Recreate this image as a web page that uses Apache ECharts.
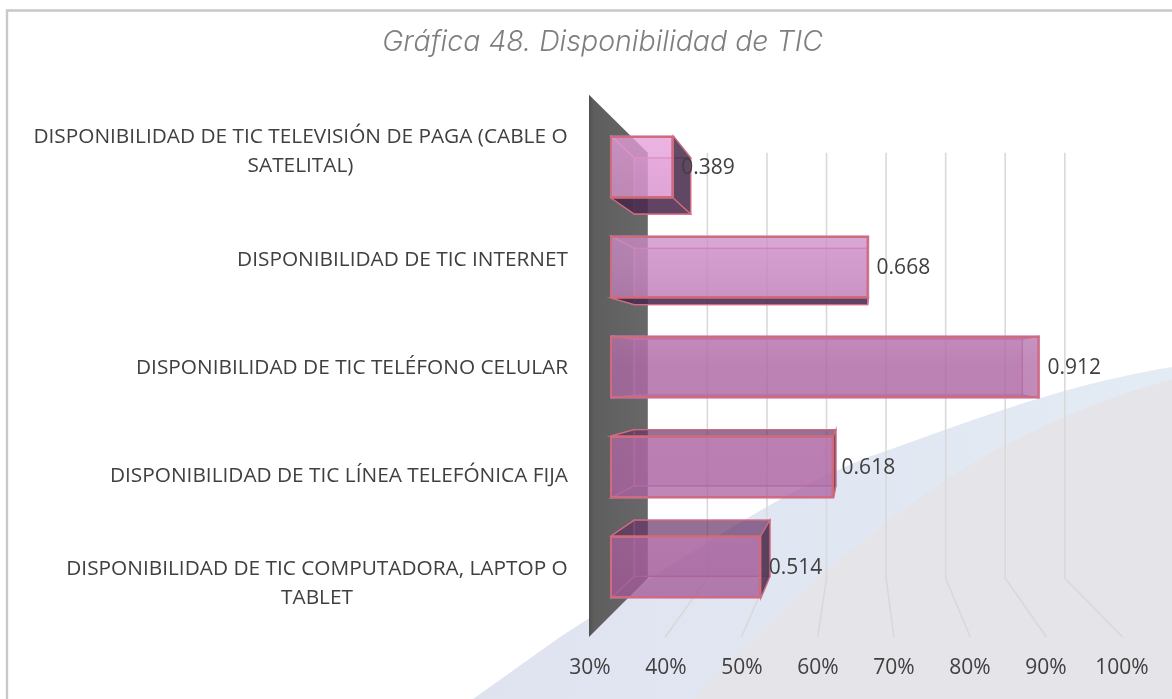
<!DOCTYPE html>
<html lang="es">
<head>
<meta charset="utf-8">
<title>Gráfica 48. Disponibilidad de TIC</title>
<script src="https://cdn.jsdelivr.net/npm/echarts@6/dist/echarts.min.js"></script>
<style>html,body{margin:0;padding:0;background:#fff}#chart{width:1172px;height:699px}</style>
</head>
<body>
<div id="chart"></div>
<script>
const titleText = 'Gráfica 48. Disponibilidad de TIC';
const categories = [
  'DISPONIBILIDAD DE TIC TELEVISIÓN DE PAGA (CABLE O\nSATELITAL)',
  'DISPONIBILIDAD DE TIC INTERNET',
  'DISPONIBILIDAD DE TIC TELÉFONO CELULAR',
  'DISPONIBILIDAD DE TIC LÍNEA TELEFÓNICA FIJA',
  'DISPONIBILIDAD DE TIC COMPUTADORA, LAPTOP O\nTABLET'
];
const values = [0.389, 0.668, 0.912, 0.618, 0.514];
const axisMin = 0.3, axisMax = 1, axisStep = 0.1;
const gridTicks = [0.4, 0.5, 0.6, 0.7, 0.8, 0.9, 1];

const FONT = '"Open Sans", sans-serif';
const TEXT = '#404040';
// perspective of the 3-D look
const VP = [858, 368];
const S_BACK_BAR = 0.906, S_WALL = 0.851, S_FLOOR = 1.089;
const proj = (p, s) => [VP[0] + (p[0] - VP[0]) * s, VP[1] + (p[1] - VP[1]) * s];

const stops = a => [
  { offset: 0, color: `rgba(232,158,218,${a})` },
  { offset: 0.29, color: `rgba(200,136,193,${a})` },
  { offset: 0.5, color: `rgba(176,106,166,${a})` },
  { offset: 0.75, color: `rgba(172,100,162,${a})` },
  { offset: 1, color: `rgba(160,88,150,${a})` }
];
const fillGrad = a => new echarts.graphic.LinearGradient(0, 130, 0, 600, stops(a), true);

// background swooshes
function curve(p0, p1, p2, p3) {
  const out = [];
  for (let k = 0; k <= 24; k++) {
    const t = k / 24, u = 1 - t;
    out.push([0, 1].map(d => u*u*u*p0[d] + 3*u*u*t*p1[d] + 3*u*t*t*p2[d] + t*t*t*p3[d]));
  }
  return out;
}
const swooshBlue = [[473, 699], [560, 637]]
  .concat(curve([560, 637], [680, 560], [790, 484], [880, 453]))
  .concat(curve([880, 453], [960, 425], [1060, 385], [1172, 367]))
  .concat([[1172, 699]]);
const swooshGray = curve([693, 699], [760, 630], [840, 550], [950, 477])
  .concat(curve([950, 477], [1010, 440], [1090, 400], [1172, 380]))
  .concat([[1172, 699]]);

function renderWall(params, api) {
  if (params.dataIndex !== 0) return null;
  const c = params.coordSys, x = api.coord([axisMin, 0])[0];
  const t = c.y, b = c.y + c.height - 2;
  const p1 = proj([x, t], S_FLOOR), p2 = proj([x, t - 2], S_WALL);
  const p3 = proj([x, b], S_WALL), p4 = proj([x, b], S_FLOOR);
  return {
    type: 'polygon', shape: { points: [p1, p2, p3, p4] },
    style: { fill: new echarts.graphic.LinearGradient(0, 0, 1, 0, [
      { offset: 0, color: '#505050' }, { offset: 0.08, color: '#5e5e5e' }, { offset: 1, color: '#686868' }]) }
  };
}

function renderGrid(params, api) {
  const c = params.coordSys, x = api.coord([api.value(0), 0])[0];
  const t = c.y - 2, b = c.y + c.height - 2;
  return {
    type: 'polyline',
    shape: { points: [proj([x, t], S_WALL), proj([x, b], S_WALL), proj([x, b], S_FLOOR)] },
    style: { fill: null, stroke: '#d9d9d9', lineWidth: 1.6 }
  };
}

function renderDepth(params, api) {
  const idx = api.value(1), v = api.value(0);
  const cy = api.coord([v, idx])[1];
  const h = 62;
  const x0 = api.coord([axisMin, idx])[0], x1 = api.coord([v, idx])[0];
  const f = { tl: [x0, cy - h / 2], tr: [x1, cy - h / 2], br: [x1, cy + h / 2], bl: [x0, cy + h / 2] };
  const b = { tl: proj(f.tl, S_BACK_BAR), tr: proj(f.tr, S_BACK_BAR), br: proj(f.br, S_BACK_BAR), bl: proj(f.bl, S_BACK_BAR) };
  const inner = 'rgba(200,118,178,0.8)', edge = '#cf6b7c';
  const face = (pts, fill, stroke, w) => ({ type: 'polygon', shape: { points: pts }, style: { fill, stroke, lineWidth: w } });
  const kids = [];
  kids.push(face([b.tl, b.tr, b.br, b.bl], fillGrad(0.35), inner, 1.3));
  kids.push(face([f.tl, b.tl, b.bl, f.bl], fillGrad(0.08), inner, 1.3));
  const topOut = f.tl[1] > VP[1], botOut = f.bl[1] < VP[1], rightOut = f.tr[0] < VP[0];
  kids.push(face([f.tl, f.tr, b.tr, b.tl], topOut ? 'rgba(85,40,90,0.55)' : fillGrad(0.08), topOut ? edge : inner, 1.3));
  kids.push(face([f.bl, f.br, b.br, b.bl], botOut ? 'rgba(65,35,70,0.82)' : fillGrad(0.08), botOut ? edge : inner, 1.3));
  kids.push(face([f.tr, f.br, b.br, b.tr], rightOut ? 'rgba(70,45,75,0.85)' : fillGrad(0.1), rightOut ? edge : inner, 1.3));
  return { type: 'group', children: kids };
}

const chart = echarts.init(document.getElementById('chart'), null, { renderer: 'canvas' });
chart.setOption({
  animation: false,
  backgroundColor: '#ffffff',
  title: {
    text: titleText, left: 597.5, top: 23, textAlign: 'center',
    textStyle: { fontFamily: 'Inter, sans-serif', fontStyle: 'italic', fontWeight: 300, fontSize: 28.5, color: '#7f7f7f' }
  },
  graphic: [
    { type: 'polygon', z: -10, silent: true, shape: { points: swooshBlue },
      style: { fill: new echarts.graphic.LinearGradient(0, 0, 1, 0, [{ offset: 0, color: '#dfe3f0' }, { offset: 1, color: '#e3ebf4' }]) } },
    { type: 'polygon', z: -9, silent: true, shape: { points: swooshGray },
      style: { fill: '#e4e4e9' } },
    { type: 'polyline', z: -8, silent: true,
      shape: { points: [[1172, 10.5], [7, 10.5], [7, 699]] },
      style: { fill: null, stroke: '#c8c8c8', lineWidth: 2.4 } }
  ],
  grid: [
    { left: 611, top: 117, width: 490, height: 500 },
    { left: 590, top: 98, width: 532, height: 540 }
  ],
  xAxis: [
    { type: 'value', gridIndex: 0, min: axisMin, max: axisMax, interval: axisStep, show: false },
    { type: 'value', gridIndex: 1, min: axisMin, max: axisMax, interval: axisStep,
      axisLine: { show: false }, axisTick: { show: false }, splitLine: { show: false },
      axisLabel: { margin: 20, fontFamily: FONT, fontSize: 21, color: TEXT,
        showMinLabel: true, showMaxLabel: true,
        formatter: v => Math.round(v * 100) + '%' } }
  ],
  yAxis: [
    { type: 'category', gridIndex: 0, data: categories, inverse: true, show: false },
    { type: 'category', gridIndex: 1, data: categories, inverse: true,
      axisLine: { show: false }, axisTick: { show: false }, splitLine: { show: false },
      axisLabel: {
        interval: 0, margin: 22, fontFamily: FONT, fontSize: 20.8, color: TEXT, lineHeight: 29,
        formatter: (val, i) => {
          const lines = val.split('\n');
          if (lines.length === 1) return val;
          const st = i === 0 ? 'wide' : 'narrow';
          return lines.map(l => `{${st}|${l}}`).join('\n');
        },
        rich: {
          wide: { width: 535, align: 'center', fontFamily: FONT, fontSize: 20.8, color: TEXT, lineHeight: 29 },
          narrow: { width: 502, align: 'center', fontFamily: FONT, fontSize: 20.8, color: TEXT, lineHeight: 29 }
        }
      } }
  ],
  series: [
    { type: 'custom', name: 'pared', z: 1, xAxisIndex: 0, yAxisIndex: 0, silent: true, clip: false,
      renderItem: renderWall, data: [[axisMin, 0]], encode: { x: 0, y: 1 } },
    { type: 'custom', name: 'rejilla', z: 1, xAxisIndex: 0, yAxisIndex: 0, silent: true, clip: false,
      renderItem: renderGrid, data: gridTicks.map(t => [t, 0]), encode: { x: 0, y: 1 } },
    { type: 'custom', name: 'profundidad', z: 2, xAxisIndex: 0, yAxisIndex: 0, silent: true, clip: false,
      renderItem: renderDepth, data: values.map((v, i) => [v, i]), encode: { x: 0, y: 1 } },
    { type: 'bar', name: 'Disponibilidad', z: 3, xAxisIndex: 0, yAxisIndex: 0, barWidth: 62, data: values,
      itemStyle: { color: fillGrad(0.75), borderColor: '#cf6b7c', borderWidth: 2 },
      label: { show: true, position: 'right', distance: 8, fontFamily: FONT, fontSize: 21, color: TEXT,
        offset: [0, 1], formatter: p => p.value.toFixed(3) } }
  ]
});
</script>
</body>
</html>
